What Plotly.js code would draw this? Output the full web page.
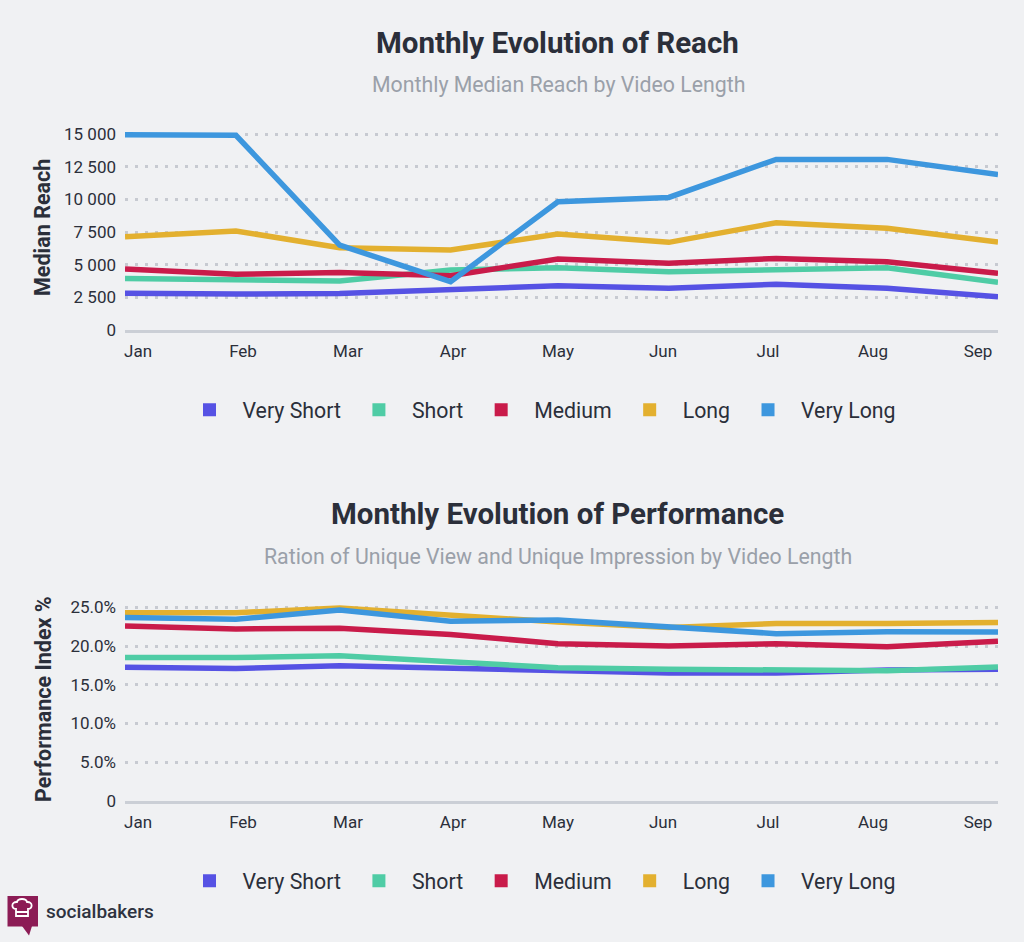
<!DOCTYPE html>
<html>
<head>
<meta charset="utf-8">
<script src="https://cdn.plot.ly/plotly-3.0.1.min.js"></script>
<style>
  html, body { margin: 0; padding: 0; background: #f0f1f3; }
  #chart { width: 1024px; height: 942px; }
</style>
</head>
<body>
<div id="chart"></div>
<script>
// ---- data ----
const months = ['2020-01-01','2020-02-01','2020-03-01','2020-04-01','2020-05-01','2020-06-01','2020-07-01','2020-08-01','2020-09-01'];
const monthLabels = ['Jan','Feb','Mar','Apr','May','Jun','Jul','Aug','Sep'];
const seriesNames = ['Very Short','Short','Medium','Long','Very Long'];
const seriesColors = ['#5652e4','#4fcca5','#c91b4a','#e3b02f','#3d97de'];

const reachVeryShort = [2810, 2750, 2800, 3060, 3390, 3190, 3500, 3190, 2550];
const reachShort     = [3950, 3830, 3750, 4590, 4770, 4460, 4640, 4770, 3650];
const reachMedium    = [4670, 4260, 4410, 4160, 5430, 5100, 5480, 5230, 4340];
const reachLong      = [7140, 7580, 6300, 6120, 7350, 6710, 8210, 7780, 6730];
const reachVeryLong  = [14950, 14900, 6500, 3700, 9820, 10150, 13060, 13060, 11900];

const perfVeryShort = [17.25, 17.1, 17.45, 17.1, 16.7, 16.5, 16.5, 16.9, 17.0];
const perfShort     = [18.5, 18.5, 18.75, 18.0, 17.2, 17.0, 16.9, 16.8, 17.3];
const perfMedium    = [22.6, 22.2, 22.3, 21.5, 20.3, 20.0, 20.3, 19.9, 20.6];
const perfLong      = [24.3, 24.3, 24.9, 23.9, 23.1, 22.4, 22.9, 22.9, 23.05];
const perfVeryLong  = [23.7, 23.45, 24.65, 23.2, 23.36, 22.4, 21.6, 21.85, 21.8];

const reachTicks = [0, 2500, 5000, 7500, 10000, 12500, 15000];
const perfTicks = [0, 5, 10, 15, 20, 25];
const perfTickText = ['0', '5.0%', '10.0%', '15.0%', '20.0%', '25.0%'];

// ---- build ----
const reachSeries = [reachVeryShort, reachShort, reachMedium, reachLong, reachVeryLong];
const perfSeries = [perfVeryShort, perfShort, perfMedium, perfLong, perfVeryLong];
const FONT = 'Roboto, "Noto Sans", sans-serif';
const TEXT = '#2b2f3a';
const traces = [];

function addGroup(data, xa, ya, legendId) {
  data.forEach((vals, i) => {
    traces.push({
      type: 'scatter', mode: 'lines', x: months, y: vals,
      xaxis: xa, yaxis: ya, name: seriesNames[i],
      line: { color: seriesColors[i], width: 5.5 },
      showlegend: false, hoverinfo: 'x+y+name'
    });
  });
  seriesNames.forEach((n, i) => {
    traces.push({
      type: 'scatter', mode: 'markers', x: [null], y: [null],
      xaxis: xa, yaxis: ya, name: n, legend: legendId,
      marker: { symbol: 'square', size: 13, color: seriesColors[i] },
      showlegend: true, hoverinfo: 'skip'
    });
  });
}
addGroup(reachSeries, 'x', 'y', 'legend');
addGroup(perfSeries, 'x2', 'y2', 'legend2');

// label-carrier traces for evenly spaced month labels
const labelIdx = monthLabels.map((_, i) => i);
const nulls = monthLabels.map(() => null);
traces.push({ type: 'scatter', mode: 'lines', x: labelIdx, y: nulls, xaxis: 'x3', yaxis: 'y', showlegend: false, hoverinfo: 'skip' });
traces.push({ type: 'scatter', mode: 'lines', x: labelIdx, y: nulls, xaxis: 'x4', yaxis: 'y2', showlegend: false, hoverinfo: 'skip' });

const W = 1024, H = 942;
const px = x => x / W;
const py = y => 1 - y / H;
const xDom = [px(125), px(998)];

function dateAxis(anchor) {
  return {
    type: 'date', domain: xDom, anchor: anchor,
    range: [months[0], months[months.length - 1]],
    showgrid: false, zeroline: false, showticklabels: false, ticks: '',
    showline: true, linecolor: '#cbcfd6', linewidth: 3, fixedrange: true
  };
}
function labelAxis(overlay, anchor) {
  return {
    type: 'linear', overlaying: overlay, anchor: anchor, side: 'bottom',
    range: [-0.124, 8.19], tickmode: 'array', tickvals: labelIdx, ticktext: monthLabels,
    showgrid: false, zeroline: false, showline: false, ticks: '',
    ticklabelstandoff: 9,
    tickfont: { family: FONT, size: 17, color: TEXT }, fixedrange: true
  };
}
function valueAxis(anchor, domain, range, tickvals, ticktext, fmt) {
  const a = {
    domain: domain, anchor: anchor, range: range,
    tickmode: 'array', tickvals: tickvals,
    showgrid: true, gridcolor: '#c7cad1', gridwidth: 3, griddash: '3px,7px',
    zeroline: false, showline: false, ticks: '',
    ticklabelstandoff: 8,
    tickfont: { family: FONT, size: 17, color: TEXT }, fixedrange: true
  };
  if (ticktext) a.ticktext = ticktext;
  if (fmt) a.tickformat = fmt;
  return a;
}

const hatPath = [
  'M', px(16), py(916), 'L', px(16), py(909),
  'C', px(11), py(909), px(11), py(901.5), px(17), py(902),
  'C', px(18), py(898), px(26), py(898), px(27), py(902),
  'C', px(33), py(901.5), px(33), py(909), px(28), py(909),
  'L', px(28), py(916), 'Z',
  'M', px(16), py(912), 'L', px(28), py(912)
].join(' ');

const legendBase = {
  orientation: 'h', xanchor: 'center', yanchor: 'middle', itemwidth: 56,
  font: { family: FONT, size: 21.3, color: TEXT }, bgcolor: 'rgba(0,0,0,0)', itemclick: false
};

const layout = {
  width: W, height: H,
  margin: { l: 0, r: 0, t: 0, b: 0 },
  paper_bgcolor: '#f0f1f3', plot_bgcolor: '#f0f1f3',
  separators: '. ',
  font: { family: FONT, color: TEXT },
  showlegend: true,
  xaxis: dateAxis('y'),
  xaxis2: dateAxis('y2'),
  xaxis3: labelAxis('x', 'y'),
  xaxis4: labelAxis('x2', 'y2'),
  yaxis: valueAxis('x', [py(330), py(127.5)], [0, 15500], reachTicks, null, ','),
  yaxis2: valueAxis('x2', [py(800.7), py(599.6)], [0, 26], perfTicks, perfTickText, null),
  legend: Object.assign({}, legendBase, { x: px(539), y: py(410) }),
  legend2: Object.assign({}, legendBase, { x: px(539), y: py(881) }),
  annotations: [
    { text: 'Monthly Evolution of Reach', xref: 'paper', yref: 'paper', x: px(557), y: py(43),
      xanchor: 'center', yanchor: 'middle', showarrow: false,
      font: { family: FONT, size: 29.5, weight: 700, color: TEXT } },
    { text: 'Monthly Median Reach by Video Length', xref: 'paper', yref: 'paper', x: px(558), y: py(85),
      xanchor: 'center', yanchor: 'middle', showarrow: false,
      font: { family: FONT, size: 21.3, color: '#9aa0a9' } },
    { text: 'Monthly Evolution of Performance', xref: 'paper', yref: 'paper', x: px(557), y: py(514),
      xanchor: 'center', yanchor: 'middle', showarrow: false,
      font: { family: FONT, size: 29.5, weight: 700, color: TEXT } },
    { text: 'Ration of Unique View and Unique Impression by Video Length', xref: 'paper', yref: 'paper', x: px(558), y: py(556),
      xanchor: 'center', yanchor: 'middle', showarrow: false,
      font: { family: FONT, size: 21.3, color: '#9aa0a9' } },
    { text: 'Median Reach', xref: 'paper', yref: 'paper', x: px(43), y: py(228), textangle: -90,
      xanchor: 'center', yanchor: 'middle', showarrow: false,
      font: { family: FONT, size: 21.5, weight: 700, color: TEXT } },
    { text: 'Performance Index %', xref: 'paper', yref: 'paper', x: px(43), y: py(699), textangle: -90,
      xanchor: 'center', yanchor: 'middle', showarrow: false,
      font: { family: FONT, size: 21.5, weight: 700, color: TEXT } },
    { text: 'socialbakers', xref: 'paper', yref: 'paper', x: px(44), y: py(911),
      xanchor: 'left', yanchor: 'middle', showarrow: false,
      font: { family: FONT, size: 19, weight: 500, color: '#2e3340' } }
  ],
  shapes: [
    { type: 'rect', xref: 'paper', yref: 'paper', x0: px(7.5), x1: px(38), y0: py(926.5), y1: py(896),
      fillcolor: '#8c1c55', line: { width: 0 } },
    { type: 'path', xref: 'paper', yref: 'paper',
      path: ['M', px(22), py(926), 'L', px(32), py(926), 'L', px(29), py(935.5), 'Z'].join(' '),
      fillcolor: '#8c1c55', line: { width: 0 } },
    { type: 'path', xref: 'paper', yref: 'paper', path: hatPath,
      line: { color: '#ffffff', width: 1.8 } }
  ]
};

Plotly.newPlot('chart', traces, layout, { displayModeBar: false, staticPlot: true });
</script>
</body>
</html>
